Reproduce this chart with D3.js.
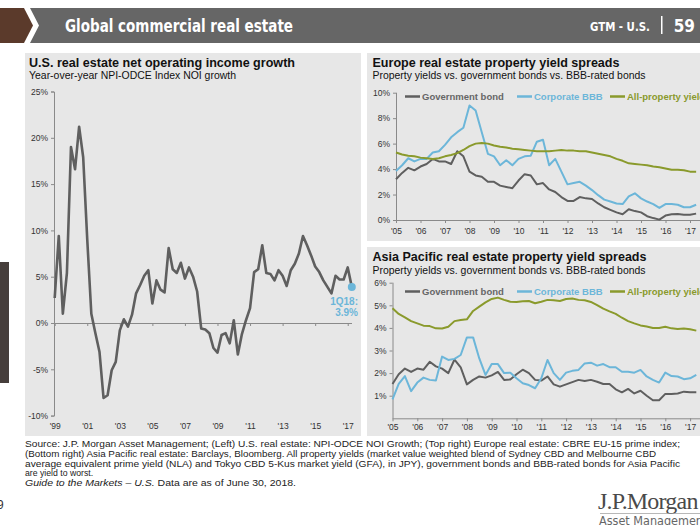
<!DOCTYPE html>
<html><head><meta charset="utf-8">
<script src="https://cdn.jsdelivr.net/npm/d3@7"></script>
<style>
body{margin:0;background:#fff;}
svg{display:block;font-family:"Liberation Sans",Arial,sans-serif;}
</style>
</head><body>
<svg id="c" width="700" height="525"></svg>
<script>
// ---------------- data ----------------
const usLabels = ["'99","'01","'03","'05","'07","'09","'11","'13","'15","'17"];
const usNOI = [2.7, 9.4, 1.0, 5.4, 19.0, 16.6, 21.2, 17.9, 9.0, 1.0,
  -1.1, -3.1, -8.1, -7.8, -5.1, -4.2, -0.8, 0.4, -0.4, 0.9,
  3.2, 4.1, 5.1, 5.7, 2.1, 4.6, 3.6, 3.3, 8.1, 5.8,
  5.4, 6.5, 4.8, 6.0, 5.0, 3.4, -0.6, -0.7, -1.1, -2.7,
  -3.2, -1.3, -1.1, -2.2, 0.3, -3.4, -1.2, 0.3, 1.6, 5.5,
  5.8, 8.4, 5.4, 5.3, 4.6, 5.7, 5.1, 4.0, 5.7, 6.4,
  7.5, 9.4, 8.4, 7.3, 6.1, 5.5, 4.6, 3.9, 3.2, 5.1,
  4.7, 4.7, 6.0, 3.9];
const usYTicks = [-10, -5, 0, 5, 10, 15, 20, 25];

const yieldYears = [2005,2006,2007,2008,2009,2010,2011,2012,2013,2014,2015,2016,2017];
const yieldLabels = ["'05","'06","'07","'08","'09","'10","'11","'12","'13","'14","'15","'16","'17"];
const seriesNames = ["Government bond", "Corporate BBB", "All-property yield"];

const euGov = [3.2, 3.7, 4.1, 3.9, 4.2, 4.4, 4.8, 4.6, 4.6, 4.4,
  5.4, 5.0, 3.8, 3.5, 3.4, 3.0, 3.0, 2.7, 2.6, 2.5,
  3.1, 3.6, 3.5, 2.8, 2.9, 2.4, 2.2, 1.8, 1.5, 1.5,
  1.8, 1.7, 1.65, 1.3, 1.0, 0.8, 0.6, 0.45, 0.85, 0.7,
  0.6, 0.3, 0.15, 0.03, 0.35, 0.45, 0.47, 0.42, 0.42, 0.5];
const euBBB = [3.85, 4.3, 4.85, 4.6, 4.8, 4.8, 5.3, 5.4, 5.9, 6.5,
  6.9, 7.25, 9.0, 8.6, 6.9, 5.2, 5.0, 4.3, 4.7, 4.3,
  4.8, 5.0, 5.05, 6.15, 6.3, 4.3, 4.8, 3.8, 2.8, 2.9,
  3.0, 2.7, 2.35, 1.95, 1.6, 1.45, 1.3, 1.25, 1.85, 2.1,
  1.7, 1.45, 1.25, 0.95, 1.25, 1.25, 1.2, 1.0, 1.0, 1.2];
const euAll = [5.3, 5.15, 5.05, 5.0, 4.9, 4.85, 4.8, 4.85, 5.0, 5.1,
  5.25, 5.5, 5.8, 6.0, 6.05, 6.0, 5.85, 5.75, 5.7, 5.6,
  5.55, 5.5, 5.45, 5.4, 5.4, 5.4, 5.45, 5.5, 5.45, 5.45,
  5.4, 5.4, 5.3, 5.2, 5.1, 5.0, 4.8, 4.65, 4.45, 4.4,
  4.35, 4.3, 4.2, 4.15, 4.05, 3.95, 3.95, 3.9, 3.8, 3.8];
const euYTicks = [0, 2, 4, 6, 8, 10];

const apGov = [1.52, 1.95, 2.2, 2.05, 2.2, 2.15, 2.5, 2.3, 2.2, 2.0,
  2.6, 2.25, 1.5, 1.7, 1.85, 1.8, 1.9, 2.05, 1.7, 1.72,
  1.95, 2.15, 2.0, 1.7, 1.67, 1.85, 1.5, 1.4, 1.5, 1.6,
  1.7, 1.65, 1.7, 1.62, 1.52, 1.52, 1.28, 1.15, 1.3, 1.1,
  1.22, 1.0, 0.8, 0.8, 1.08, 1.08, 1.1, 1.18, 1.15, 1.15];
const apBBB = [0.84, 1.52, 1.87, 1.2, 1.58, 1.8, 1.7, 1.67, 2.73, 2.58,
  2.63, 2.8, 3.58, 3.58, 2.65, 1.92, 2.4, 2.4, 2.0, 2.02,
  1.77, 1.55, 1.47, 1.33, 1.77, 2.58, 2.0, 1.7, 2.02, 2.1,
  2.14, 2.43, 2.46, 2.33, 2.4, 2.26, 2.26, 2.06, 2.06, 2.02,
  2.14, 1.85, 1.7, 1.58, 2.02, 1.87, 1.85, 1.73, 1.77, 1.92];
const apAll = [4.87, 4.62, 4.47, 4.3, 4.2, 4.1, 4.08, 3.98, 3.97, 4.05,
  4.3, 4.35, 4.38, 4.75, 4.94, 5.13, 5.28, 5.34, 5.24, 5.16,
  5.15, 5.18, 5.19, 5.09, 5.16, 5.24, 5.22, 5.19, 5.28, 5.3,
  5.24, 5.22, 5.15, 5.01, 4.85, 4.73, 4.62, 4.45, 4.3, 4.2,
  4.11, 4.06, 4.0, 4.0, 4.05, 3.98, 3.95, 3.97, 3.94, 3.88];
const apYTicks = [1, 2, 3, 4, 5, 6];

const sourceLines = [
  "Source: J.P. Morgan Asset Management; (Left) U.S. real estate: NPI-ODCE NOI Growth; (Top right) Europe real estate: CBRE EU-15 prime index;",
  "(Bottom right) Asia Pacific real estate: Barclays, Bloomberg. All property yields (market value weighted blend of Sydney CBD and Melbourne CBD",
  "average equivalent prime yield (NLA) and Tokyo CBD 5-Kus market yield (GFA), in JPY), government bonds and BBB-rated bonds for Asia Pacific",
  "are yield to worst."
];

// ---------------- styles ----------------
const C_GRAY = "#5f5f5f", C_BLUE = "#6cb6d9", C_OLIVE = "#8a9a2c";
const seriesColors = [C_GRAY, C_BLUE, C_OLIVE];
const PANEL = "#e7e7e7";
const NARROW = "'Liberation Sans Narrow','DejaVu Sans Condensed',sans-serif";

const svg = d3.select("#c");

// ---------------- header ----------------
svg.append("path").attr("d", "M0,8 L24,8 L33,25.5 L24,43 L0,43 Z").attr("fill", "#5b3a2b");
svg.append("path").attr("d", "M30,8 L700,8 L700,43 L30,43 L39,25.5 Z").attr("fill", "#666666");
svg.append("text").attr("x", 65).attr("y", 31.5).attr("font-family", NARROW)
  .attr("font-size", 18).attr("font-weight", "bold").attr("fill", "#fff")
  .attr("textLength", 228).attr("lengthAdjust", "spacingAndGlyphs")
  .text("Global commercial real estate");
svg.append("text").attr("x", 590).attr("y", 31).attr("font-family", NARROW)
  .attr("font-size", 12.5).attr("font-weight", "bold").attr("fill", "#fff")
  .attr("textLength", 60).attr("lengthAdjust", "spacingAndGlyphs").text("GTM - U.S.");
svg.append("rect").attr("x", 661).attr("y", 16).attr("width", 1.5).attr("height", 18).attr("fill", "#fff");
svg.append("text").attr("x", 695).attr("y", 31.5).attr("text-anchor", "end").attr("font-family", NARROW)
  .attr("font-size", 17).attr("font-weight", "bold").attr("fill", "#fff").text("59");

// side tab and page fragment
svg.append("rect").attr("x", 0).attr("y", 262).attr("width", 9).attr("height", 121).attr("fill", "#463e3b");
svg.append("text").attr("x", -3).attr("y", 509).attr("font-size", 12).attr("fill", "#333").text("9");

// ---------------- panels ----------------
svg.append("rect").attr("x", 25).attr("y", 53).attr("width", 336).attr("height", 383).attr("fill", PANEL);
svg.append("rect").attr("x", 367).attr("y", 53).attr("width", 333).attr("height", 188).attr("fill", PANEL);
svg.append("rect").attr("x", 367).attr("y", 247).attr("width", 333).attr("height", 189).attr("fill", PANEL);

function titles(x, y1, y2, t, s, w1, w2) {
  svg.append("text").attr("x", x).attr("y", y1).attr("font-size", 13.5).attr("font-weight", "bold")
    .attr("fill", "#111").attr("textLength", w1).attr("lengthAdjust", "spacingAndGlyphs").text(t);
  svg.append("text").attr("x", x).attr("y", y2).attr("font-size", 11).attr("fill", "#111")
    .attr("textLength", w2).attr("lengthAdjust", "spacingAndGlyphs").text(s);
}
titles(29, 67, 79, "U.S. real estate net operating income growth", "Year-over-year NPI-ODCE Index NOI growth", 266, 207);
titles(372.5, 67, 79, "Europe real estate property yield spreads", "Property yields vs. government bonds vs. BBB-rated bonds", 247, 273);
titles(372.5, 261, 273.5, "Asia Pacific real estate property yield spreads", "Property yields vs. government bonds vs. BBB-rated bonds", 274, 273);

function styleAxis(g) {
  g.selectAll("path.domain").attr("stroke", "#8a8a8a").attr("stroke-width", 1);
  g.selectAll(".tick line").attr("stroke", "#8a8a8a");
  g.selectAll("text").attr("fill", "#333").attr("font-size", 8.5).attr("font-family", "'Liberation Sans',Arial,sans-serif");
}

// ---------------- left chart ----------------
{
  const x = d3.scaleLinear().domain([0, usNOI.length - 1]).range([54.7, 351.8]);
  const y = d3.scaleLinear().domain([-10, 25]).range([415.6, 91.5]);
  const gy = svg.append("g").attr("transform", `translate(54,0)`)
    .call(d3.axisLeft(y).tickValues(usYTicks).tickFormat(d => d + "%").tickSize(3).tickPadding(3));
  styleAxis(gy);
  const tickIdx = usLabels.map((_, i) => i * 8);
  const gx = svg.append("g").attr("transform", `translate(0,${y(0)})`)
    .call(d3.axisBottom(x).tickValues(tickIdx).tickFormat((d, i) => usLabels[i]).tickSize(3).tickSizeOuter(0));
  styleAxis(gx);
  gx.select("path.domain").attr("d", `M54,0.5H352`);
  gx.selectAll("text").attr("y", 0).attr("dy", 0).attr("transform", `translate(0,${429 - y(0)})`);
  svg.append("path").datum(usNOI)
    .attr("fill", "none").attr("stroke", C_GRAY).attr("stroke-width", 2.6).attr("stroke-linejoin", "round")
    .attr("d", d3.line().x((d, i) => x(i)).y(d => y(d)));
  const last = usNOI.length - 1;
  svg.append("circle").attr("cx", x(last)).attr("cy", y(usNOI[last])).attr("r", 4).attr("fill", C_BLUE);
  svg.append("text").attr("x", 358).attr("y", 305).attr("text-anchor", "end").attr("font-size", 10)
    .attr("font-weight", "bold").attr("fill", C_BLUE).text("1Q18:");
  svg.append("text").attr("x", 358).attr("y", 315.5).attr("text-anchor", "end").attr("font-size", 10)
    .attr("font-weight", "bold").attr("fill", C_BLUE).text(usNOI[last].toFixed(1) + "%");
}

// ---------------- right charts ----------------
function yieldChart(opt) {
  const n = opt.series[0].length;
  const x = d3.scaleLinear().domain([2005, 2005 + (n - 1) * 0.25]).range([opt.x0, opt.x0 + (n - 1) * 0.25 * opt.pxYear]);
  const y = d3.scaleLinear().domain([0, opt.yMax]).range([opt.yBottom, opt.yTop]);
  const gy = svg.append("g").attr("transform", `translate(${opt.x0},0)`)
    .call(d3.axisLeft(y).tickValues(opt.yTicks).tickFormat(d => d + "%").tickSize(3).tickPadding(3).tickSizeOuter(0));
  styleAxis(gy);
  gy.select("path.domain").attr("d", `M0.5,${opt.yBottom}V${opt.yTop}`);
  const gx = svg.append("g").attr("transform", `translate(0,${opt.yBottom})`)
    .call(d3.axisBottom(x).tickValues(yieldYears).tickFormat((d, i) => yieldLabels[i]).tickSize(3).tickSizeOuter(0));
  styleAxis(gx);
  gx.select("path.domain").attr("d", `M${opt.x0},0.5H700`);
  gx.selectAll("text").attr("y", 0).attr("dy", 0).attr("transform", `translate(0,${opt.labelY - opt.yBottom})`);
  opt.series.forEach((s, k) => {
    svg.append("path").datum(s).attr("fill", "none").attr("stroke", seriesColors[k])
      .attr("stroke-width", 2).attr("stroke-linejoin", "round")
      .attr("d", d3.line().x((d, i) => x(2005 + i * 0.25)).y(d => y(d)));
  });
  const lx = [405, 517, 610];
  seriesNames.forEach((nm, k) => {
    svg.append("line").attr("x1", lx[k]).attr("x2", lx[k] + 15).attr("y1", opt.legY).attr("y2", opt.legY)
      .attr("stroke", seriesColors[k]).attr("stroke-width", 2.5);
    svg.append("text").attr("x", lx[k] + 17).attr("y", opt.legY + 3.5).attr("font-size", 9.5)
      .attr("font-weight", "bold").attr("fill", seriesColors[k] === C_GRAY ? "#666" : seriesColors[k]).text(nm);
  });
}
yieldChart({series: [euGov, euBBB, euAll], x0: 396, pxYear: 24.5, yMax: 10, yTop: 92.7, yBottom: 220,
  yTicks: euYTicks, labelY: 234, legY: 96.5});
yieldChart({series: [apGov, apBBB, apAll], x0: 392.5, pxYear: 24.8, yMax: 6, yTop: 282.7, yBottom: 418.3,
  yTicks: apYTicks, labelY: 430, legY: 291.5});

// ---------------- footer ----------------
const srcW = [655, 631, 655, null];
sourceLines.forEach((t, i) => {
  const el = svg.append("text").attr("x", 25).attr("y", 447 + i * 9.8).attr("font-size", 8.7).attr("fill", "#222").text(t);
  if (srcW[i]) el.attr("textLength", srcW[i]).attr("lengthAdjust", "spacingAndGlyphs");
});
const g5 = svg.append("text").attr("x", 25).attr("y", 447 + 4 * 9.8).attr("font-size", 8.7).attr("fill", "#222")
  .attr("textLength", 271).attr("lengthAdjust", "spacingAndGlyphs");
g5.append("tspan").attr("font-style", "italic").text("Guide to the Markets – U.S.");
g5.append("tspan").text(" Data are as of June 30, 2018.");

svg.append("text").attr("x", 598).attr("y", 509).attr("font-family", "'Liberation Serif','DejaVu Serif',serif")
  .attr("font-size", 24).attr("fill", "#4a4a4a").attr("letter-spacing", -0.8).text("J.P.Morgan");
svg.append("line").attr("x1", 600).attr("x2", 700).attr("y1", 513.5).attr("y2", 513.5).attr("stroke", "#999").attr("stroke-width", 0.7);
svg.append("text").attr("x", 599).attr("y", 524.5).attr("font-family", NARROW)
  .attr("font-size", 12.5).attr("fill", "#666").text("Asset Management");
</script>
</body></html>
